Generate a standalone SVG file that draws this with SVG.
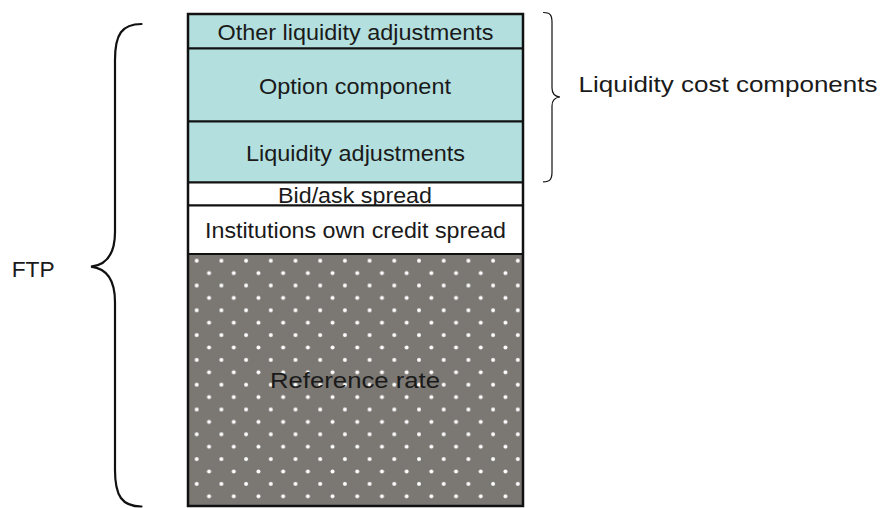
<svg xmlns="http://www.w3.org/2000/svg" width="880" height="508" viewBox="0 0 880 508">
  <style>
    .lbl { font-family: "Liberation Sans", Arial, sans-serif; font-size: 22.5px; fill: #1a1a1a; }
    .mid { text-anchor: middle; }
    .band { stroke: #111; stroke-width: 2; }
    .teal { fill: #b3e0df; }
    .white { fill: #ffffff; }
    .brace { fill: none; stroke: #111; stroke-linecap: round; }
  </style>
  <defs>
    <pattern id="dots" patternUnits="userSpaceOnUse" x="196.7" y="260.7" width="24.7" height="24.8">
      <rect width="24.7" height="24.8" fill="#7b7873"/>
      <circle cx="0" cy="0" r="2" fill="#fff"/>
      <circle cx="24.7" cy="0" r="2" fill="#fff"/>
      <circle cx="0" cy="24.8" r="2" fill="#fff"/>
      <circle cx="24.7" cy="24.8" r="2" fill="#fff"/>
      <circle cx="12.35" cy="12.4" r="2" fill="#fff"/>
    </pattern>
  </defs>

  <!-- stacked rate components -->
  <g id="other-liquidity">
    <rect class="band teal" x="188" y="14" width="335" height="34.5"/>
    <text class="lbl mid" x="355.5" y="40" textLength="276" lengthAdjust="spacingAndGlyphs">Other liquidity adjustments</text>
  </g>
  <g id="option-component">
    <rect class="band teal" x="188" y="48.5" width="335" height="73"/>
    <text class="lbl mid" x="355" y="94.3" textLength="192" lengthAdjust="spacingAndGlyphs">Option component</text>
  </g>
  <g id="liquidity-adjustments">
    <rect class="band teal" x="188" y="121.5" width="335" height="61"/>
    <text class="lbl mid" x="355.5" y="160.7" textLength="219" lengthAdjust="spacingAndGlyphs">Liquidity adjustments</text>
  </g>
  <g id="bid-ask">
    <rect class="band white" x="188" y="182.5" width="335" height="23"/>
    <text class="lbl mid" x="355" y="202.7" textLength="154" lengthAdjust="spacingAndGlyphs">Bid/ask spread</text>
  </g>
  <g id="credit-spread">
    <rect class="band white" x="188" y="205.5" width="335" height="48.5"/>
    <text class="lbl mid" x="355.5" y="238.3" textLength="301" lengthAdjust="spacingAndGlyphs">Institutions own credit spread</text>
  </g>
  <g id="reference-rate">
    <rect class="band" x="188" y="254" width="335" height="252" fill="url(#dots)"/>
    <text class="lbl mid" x="355" y="388.3" textLength="170" lengthAdjust="spacingAndGlyphs">Reference rate</text>
  </g>
  <rect x="188" y="14" width="335" height="492" fill="none" stroke="#111" stroke-width="2.5"/>

  <!-- braces -->
  <g id="connectors">
    <path class="brace" stroke-width="2.2" d="M141.5,24 C122,24 115,34 115,60 L115,232 C115,254 106,265 91,266.7 C106,268.5 115,279 115,302 L115,470 C115,496 122,506.5 141.5,506.5"/>
    <path class="brace" stroke-width="1.2" d="M543.5,12.5 C550,12.5 552,15 552,22 L552,88 C552,94 555,96.5 560,97 C555,97.5 552,100 552,106 L552,172 C552,179 550,181.8 543.5,181.8"/>
  </g>

  <g id="ftp-label">
    <text class="lbl" x="11.7" y="276.7" textLength="43" lengthAdjust="spacingAndGlyphs" font-size="24">FTP</text>
  </g>
  <g id="liquidity-cost-label">
    <text class="lbl" x="578.5" y="92" textLength="299" lengthAdjust="spacingAndGlyphs">Liquidity cost components</text>
  </g>
</svg>
